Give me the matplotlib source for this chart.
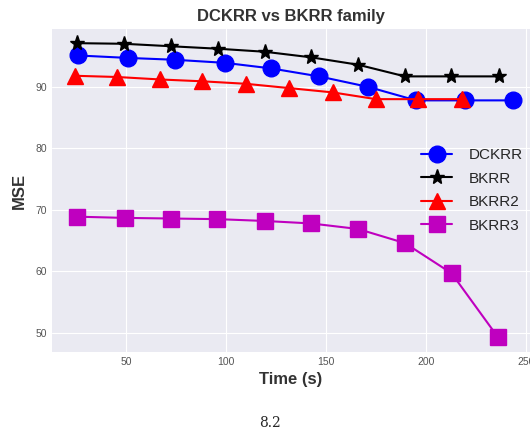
import matplotlib.pyplot as plt

# data
t_dckrr = [26, 51, 74.5, 99.5, 122.5, 146.5, 171, 195, 219.5, 243.5]
mse_dckrr = [95.1, 94.7, 94.4, 93.9, 93.0, 91.7, 90.0, 87.8, 87.8, 87.8]

t_bkrr = [25.3, 49, 72.3, 95.8, 119.5, 142.5, 166, 189.5, 212.5, 236.5]
mse_bkrr = [97.1, 97.0, 96.6, 96.2, 95.7, 94.8, 93.6, 91.7, 91.7, 91.7]

t_bkrr2 = [24.5, 45.7, 67, 88.2, 109.8, 131.5, 153.3, 175, 195.8, 217.8]
mse_bkrr2 = [91.8, 91.6, 91.2, 90.9, 90.5, 89.8, 89.1, 88.0, 88.0, 88.0]

t_bkrr3 = [25.3, 49.5, 72.5, 95.7, 119.5, 142.5, 166, 189.5, 212.8, 236]
mse_bkrr3 = [68.9, 68.7, 68.6, 68.5, 68.2, 67.8, 66.9, 64.6, 59.7, 49.3]

plt.style.use('seaborn-v0_8-darkgrid')
fig = plt.figure(figsize=(5.3, 4.33), dpi=100)
ax = fig.add_axes([0.098, 0.187, 0.902, 0.746])

ax.plot(t_dckrr, mse_dckrr, 'o-', color='b', markersize=12, lw=1.5, label='DCKRR')
ax.plot(t_bkrr, mse_bkrr, '*-', color='k', markersize=11, lw=1.5, label='BKRR')
ax.plot(t_bkrr2, mse_bkrr2, '^-', color='r', markersize=12, lw=1.5, label='BKRR2')
ax.plot(t_bkrr3, mse_bkrr3, 's-', color='m', markersize=11, lw=1.5, label='BKRR3')

ax.set_xlim(13, 252)
ax.set_ylim(46.9, 99.4)
ax.set_xticks([50, 100, 150, 200, 250])
ax.set_yticks([50, 60, 70, 80, 90])
ax.tick_params(labelsize=7.5, labelcolor='#555555')

ax.set_title('DCKRR vs BKRR family', fontsize=12, fontweight='bold', color='#333333')
ax.set_xlabel('Time (s)', fontsize=12, fontweight='bold', color='#333333')
ax.set_ylabel('MSE', fontsize=12, fontweight='bold', color='#333333', labelpad=6)

ax.legend(loc='center right', fontsize=11, frameon=False, bbox_to_anchor=(1.014, 0.5),
          labelspacing=0.62, handletextpad=1.1)

fig.text(0.51, 0.015, '8.2', fontsize=10, family='serif', ha='center')

fig.savefig('out.png', dpi=100)
